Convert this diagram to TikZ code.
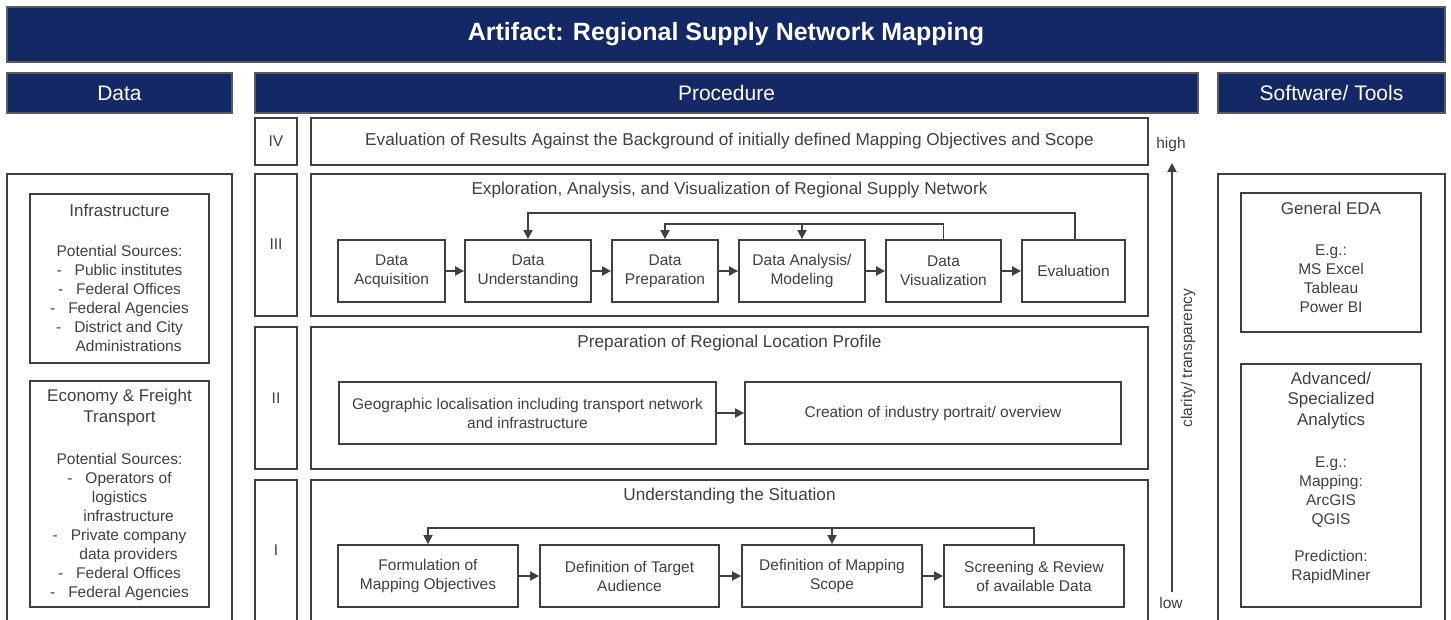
\documentclass[tikz,border=0pt]{standalone}
\usepackage{fontspec}
\setmainfont{Liberation Sans}
\usetikzlibrary{arrows.meta}
\definecolor{navy}{HTML}{132865}
\definecolor{lg}{HTML}{404040}
\definecolor{tg}{HTML}{404040}
\definecolor{bargray}{HTML}{5A5A5A}
\newcommand{\bodyf}{\fontsize{15.5}{19}\selectfont}
\newcommand{\headf}{\fontsize{17}{19}\selectfont}
\newcommand{\titf}{\fontsize{17.2}{20}\selectfont}
\newcommand{\dsh}{-\hspace{13pt}}
\newcommand{\ndsh}{\hphantom{-\hspace{13pt}}}
\begin{document}
\begin{tikzpicture}[x=1pt,y=-1pt,
  bar/.style={draw=bargray, line width=1.2pt, fill=navy, text=white, inner sep=0pt, font=\fontsize{21}{25}\selectfont},
  frame/.style={draw=lg, line width=1.8pt, inner sep=0pt},
  proc/.style={draw=lg, line width=1.8pt, inner sep=0pt, align=center, text=tg, font=\bodyf},
  lbl/.style={text=tg, font=\bodyf, inner sep=0pt, align=center},
  arr/.style={draw=lg, line width=1.8pt, -{Triangle[length=9pt,width=9pt]}},
  conn/.style={draw=lg, line width=1.8pt}]
\useasboundingbox[fill=white] (0,0) rectangle (1451,620);

% title and headers
\node[bar, minimum width=1438pt, minimum height=55pt, font=\fontsize{25}{29}\selectfont\bfseries] (title) at (726,34.5) {Artifact: Regional Supply Network Mapping};
\node[bar, minimum width=225pt, minimum height=40pt] (hdata) at (119.5,93) {Data};
\node[bar, minimum width=943pt, minimum height=40pt] (hproc) at (726.5,93) {Procedure};
\node[bar, minimum width=227pt, minimum height=40pt] (hsoft) at (1331.5,93) {Software/ Tools};

% data column
\node[frame, minimum width=225pt, minimum height=451pt] (dframe) at (119.5,399.5) {};
\node[frame, minimum width=179pt, minimum height=169pt] (infra) at (119.5,278.5) {};
\node[lbl] (infraT) at (119.5,278) {{\headf Infrastructure}\\[21pt]
  Potential Sources:\\ \dsh Public institutes\\ \dsh Federal Offices\\ \dsh Federal Agencies\\ \dsh District and City\\ \ndsh Administrations};
\node[frame, minimum width=179pt, minimum height=226pt] (econ) at (119.5,494) {};
\node[lbl] (econT) at (119.5,495) {{\headf Economy \& Freight}\\[2pt] {\headf Transport}\\[23pt]
  Potential Sources:\\ \dsh Operators of\\ logistics\\ \ndsh infrastructure\\ \dsh Private company\\ \ndsh data providers\\ \dsh Federal Offices\\ \dsh Federal Agencies};

% roman numeral boxes
\node[proc, minimum width=42pt, minimum height=47pt] (r4) at (276,141.5) {IV};
\node[frame, minimum width=42pt, minimum height=142pt] (r3) at (276,245) {};
\node[lbl] (r3T) at (276,244) {III};
\node[proc, minimum width=42pt, minimum height=142pt] (r2) at (276,398) {II};
\node[frame, minimum width=42pt, minimum height=142pt] (r1) at (276,551) {};
\node[lbl] (r1T) at (276,550) {I};

% main boxes
\node[proc, minimum width=837pt, minimum height=47pt, font=\titf] (m4) at (729.5,141.5) {Evaluation of Results Against the Background of initially defined Mapping Objectives and Scope};
\node[frame, minimum width=837pt, minimum height=142pt] (m3) at (729.5,245) {};
\node[lbl, font=\titf] (m3T) at (729.5,190) {Exploration, Analysis, and Visualization of Regional Supply Network};
\node[frame, minimum width=837pt, minimum height=142pt] (m2) at (729.5,398) {};
\node[lbl, font=\titf] (m2T) at (729.5,343) {Preparation of Regional Location Profile};
\node[frame, minimum width=837pt, minimum height=142pt] (m1) at (729.5,551) {};
\node[lbl, font=\titf] (m1T) at (729.5,496) {Understanding the Situation};

% stage III
\node[proc, minimum width=107pt, minimum height=62pt] (da) at (391.5,271) {Data\\Acquisition};
\node[proc, minimum width=126pt, minimum height=62pt] (du) at (528,271) {Data\\Understanding};
\node[proc, minimum width=106pt, minimum height=62pt] (dp) at (665,271) {Data\\Preparation};
\node[proc, minimum width=126pt, minimum height=62pt] (dam) at (802,271) {Data Analysis/\\Modeling};
\node[proc, minimum width=115pt, minimum height=62pt] (dv) at (943.5,271) {Data\\Visualization};
\node[proc, minimum width=103pt, minimum height=62pt] (ev) at (1073.5,271) {Evaluation};
\draw[arr] (da) -- (du);
\draw[arr] (du) -- (dp);
\draw[arr] (dp) -- (dam);
\draw[arr] (dam) -- (dv);
\draw[arr] (dv) -- (ev);
\coordinate (fb1) at (1075,213);
\coordinate (fb2) at (943.5,224);
\draw[arr] ([xshift=1.5pt]ev.north) -- (fb1) -| (du.north);
\draw[arr] (dv.north) -- (fb2) -| (dp.north);
\draw[arr] (fb2) -| (dam.north);

% stage II
\node[proc, minimum width=377pt, minimum height=62pt] (geo) at (527.5,413) {Geographic localisation including transport network\\and infrastructure};
\node[proc, minimum width=376pt, minimum height=62pt] (cre) at (933,413) {Creation of industry portrait/ overview};
\draw[arr] (geo) -- (cre);

% stage I
\node[proc, minimum width=180pt, minimum height=62pt] (fo) at (428,576) {Formulation of\\Mapping Objectives};
\node[proc, minimum width=179pt, minimum height=62pt] (ta) at (629.5,576) {Definition of Target\\Audience};
\node[proc, minimum width=180pt, minimum height=62pt] (ms) at (832,576) {Definition of Mapping\\Scope};
\node[proc, minimum width=180pt, minimum height=62pt] (sc) at (1034,576) {Screening \& Review\\of available Data};
\draw[arr] (fo) -- (ta);
\draw[arr] (ta) -- (ms);
\draw[arr] (ms) -- (sc);
\coordinate (fb3) at (1034,528);
\draw[arr] (sc.north) -- (fb3) -| (fo.north);
\draw[arr] (fb3) -| (ms.north);

% clarity axis
\coordinate (lowpt) at (1172,592);
\coordinate (highpt) at (1172,163);
\draw[arr] (lowpt) -- (highpt);
\node[lbl] (high) at (1171,144) {high};
\node[lbl] (low) at (1171,603) {low};
\node[lbl, rotate=90] (clar) at (1188,358) {clarity/ transparency};

% software column
\node[frame, minimum width=227pt, minimum height=451pt] (sframe) at (1331.5,399.5) {};
\node[frame, minimum width=180pt, minimum height=139pt] (eda) at (1331,262.5) {};
\node[lbl] (edaT) at (1331,257) {{\headf General EDA}\\[22pt] E.g.:\\ MS Excel\\ Tableau\\ Power BI};
\node[frame, minimum width=180pt, minimum height=243pt] (adv) at (1331,485.5) {};
\node[lbl] (advT) at (1331,477.5) {{\headf Advanced/}\\[1pt] {\headf Specialized}\\[2pt] {\headf Analytics}\\[23pt]
  E.g.:\\ Mapping:\\ ArcGIS\\ QGIS\\[18pt] Prediction:\\ RapidMiner};
\end{tikzpicture}
\end{document}
